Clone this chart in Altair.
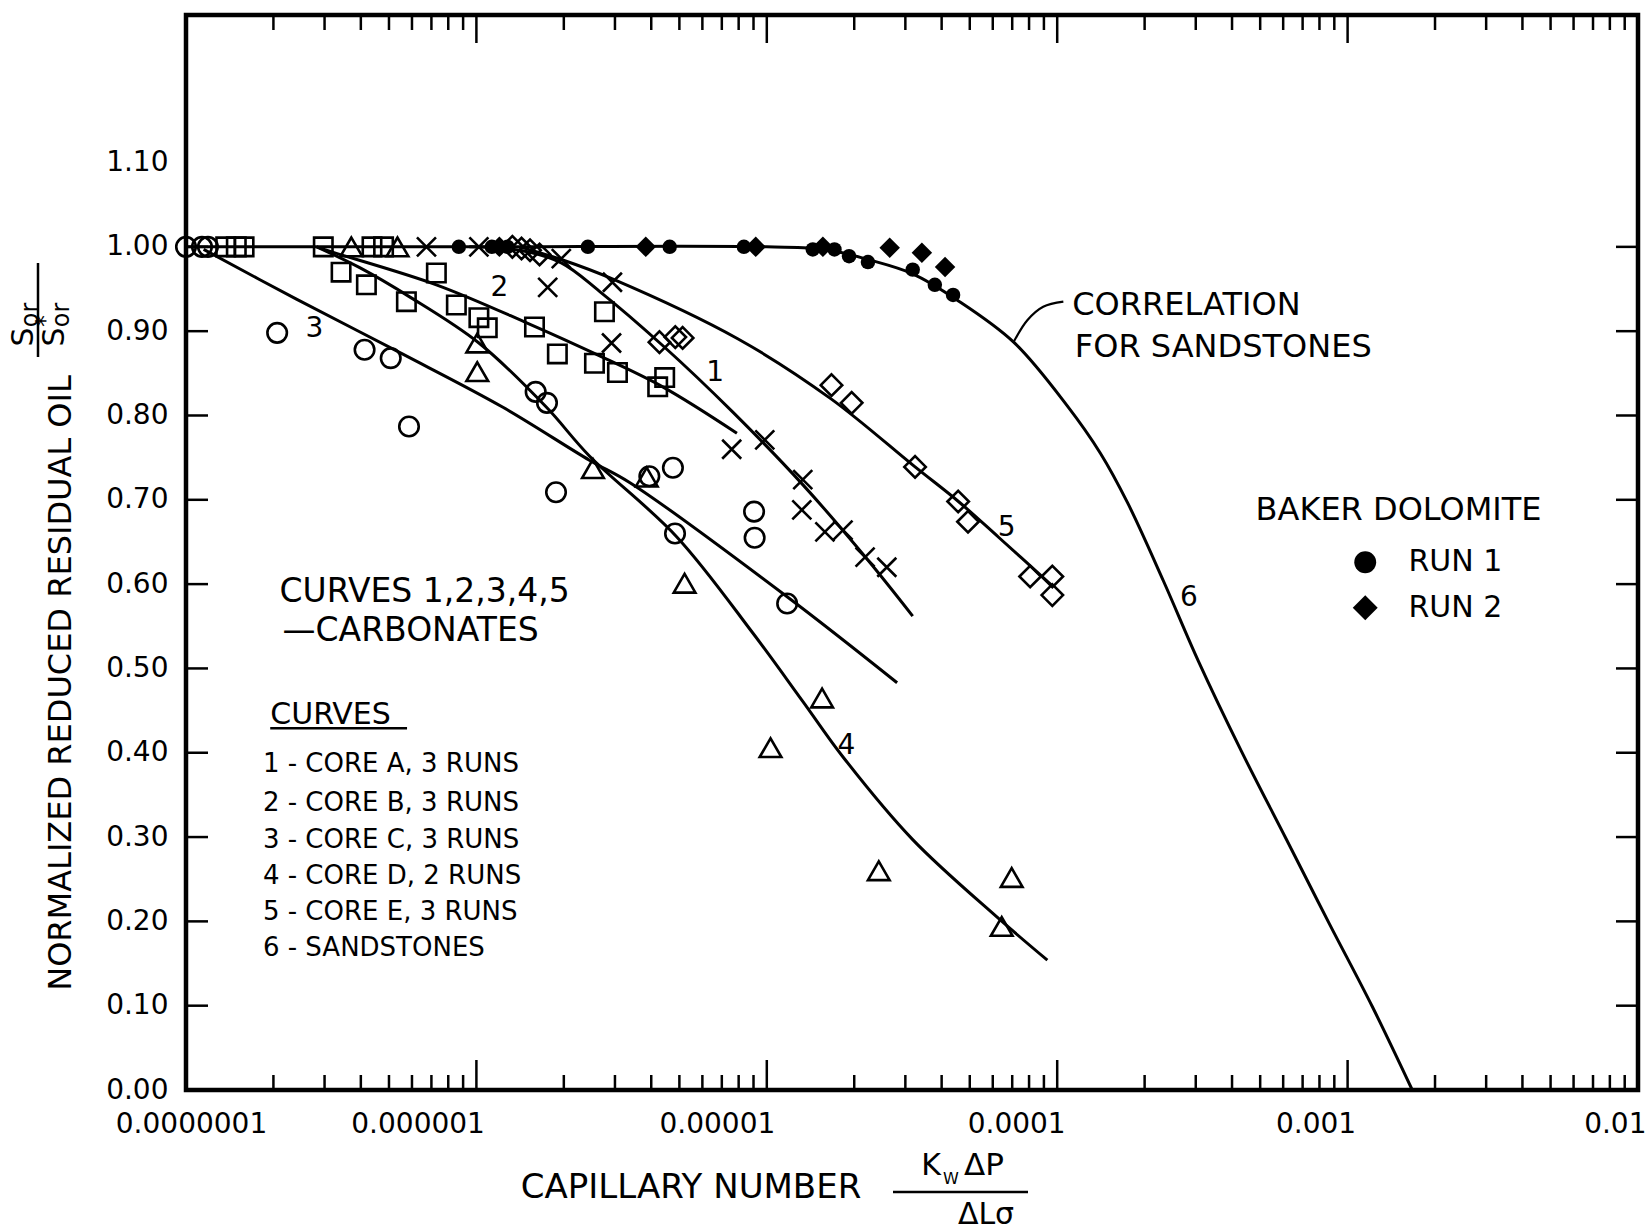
import altair as alt
import pandas as pd

# ---------------- measured points ----------------
# Core A (x markers)
core_a_x = [6.73e-7, 1.02e-6, 1.96e-6, 1.76e-6, 2.94e-6, 2.92e-6, 7.57e-6, 9.84e-6,
            1.33e-5, 1.32e-5, 1.585e-5, 1.83e-5, 2.18e-5, 2.59e-5]
core_a_y = [1.0, 1.0, 0.986, 0.952, 0.958, 0.886, 0.76, 0.771,
            0.724, 0.688, 0.662, 0.664, 0.632, 0.62]

# Core B (open squares)
core_b_x = [1.37e-7, 1.49e-7, 1.585e-7, 2.97e-7, 4.37e-7, 4.79e-7, 3.42e-7, 4.18e-7,
            5.74e-7, 7.28e-7, 8.53e-7, 1.02e-6, 1.09e-6, 1.585e-6, 1.90e-6, 2.55e-6,
            2.76e-6, 3.06e-6, 4.21e-6, 4.45e-6]
core_b_y = [1.0, 1.0, 1.0, 1.0, 1.0, 1.0, 0.97, 0.955,
            0.935, 0.969, 0.931, 0.916, 0.904, 0.905, 0.873, 0.862,
            0.923, 0.851, 0.834, 0.845]

# Core C (open circles)
core_c_x = [1.0e-7, 1.135e-7, 1.19e-7, 2.06e-7, 4.12e-7, 5.07e-7, 5.86e-7, 1.60e-6,
            1.75e-6, 1.88e-6, 3.94e-6, 4.75e-6, 4.83e-6, 9.04e-6, 9.08e-6, 1.175e-5]
core_c_y = [1.0, 1.0, 1.0, 0.898, 0.878, 0.868, 0.787, 0.828,
            0.815, 0.709, 0.728, 0.738, 0.66, 0.686, 0.655, 0.577]

# Core D (open triangles)
core_d_x = [3.71e-7, 5.35e-7, 1.007e-6, 1.007e-6, 2.52e-6, 3.86e-6, 5.21e-6, 1.55e-5,
            1.03e-5, 2.43e-5, 6.97e-5, 6.44e-5]
core_d_y = [1.0, 1.0, 0.886, 0.852, 0.737, 0.727, 0.601, 0.465,
            0.406, 0.26, 0.252, 0.194]

# Core E (open diamonds)
core_e_x = [1.33e-6, 1.43e-6, 1.53e-6, 1.65e-6, 4.27e-6, 4.84e-6, 5.13e-6, 1.67e-5,
            1.96e-5, 3.24e-5, 4.56e-5, 4.93e-5, 8.07e-5, 9.62e-5, 9.62e-5]
core_e_y = [1.0, 0.998, 0.996, 0.991, 0.887, 0.893, 0.892, 0.836,
            0.815, 0.739, 0.698, 0.674, 0.609, 0.609, 0.587]

# Baker dolomite, run 1 (filled circles) and run 2 (filled diamonds)
baker1_x = [8.7e-7, 1.13e-6, 1.28e-6, 2.42e-6, 4.63e-6, 8.34e-6, 1.44e-5, 1.71e-5,
            1.92e-5, 2.23e-5, 3.18e-5, 3.79e-5, 4.38e-5]
baker1_y = [1.0, 1.0, 1.0, 1.0, 1.0, 1.0, 0.997, 0.997,
            0.989, 0.982, 0.973, 0.955, 0.943]
baker2_x = [1.2e-6, 3.83e-6, 9.16e-6, 1.56e-5, 2.65e-5, 3.42e-5, 4.11e-5]
baker2_y = [1.0, 1.0, 1.0, 1.0, 0.999, 0.993, 0.976]

# ---------------- fitted curves ----------------
curve1_x = [9.46e-7, 1.41e-6, 1.96e-6, 2.66e-6, 4.38e-6, 7.64e-6, 1.33e-5, 2.21e-5, 3.18e-5]
curve1_y = [1.0, 0.996, 0.981, 0.947, 0.883, 0.804, 0.718, 0.63, 0.562]
curve2_x = [2.82e-7, 3.18e-7, 7.28e-7, 1.51e-6, 2.57e-6, 4.38e-6, 7.89e-6]
curve2_y = [1.0, 0.994, 0.955, 0.909, 0.873, 0.834, 0.779]
curve3_x = [1.15e-7, 2.40e-7, 5.56e-7, 1.23e-6, 2.45e-6, 3.39e-6, 1.175e-5, 2.81e-5]
curve3_y = [0.997, 0.938, 0.873, 0.81, 0.747, 0.72, 0.585, 0.483]
curve4_x = [2.82e-7, 3.98e-7, 5.87e-7, 1.02e-6, 1.74e-6, 2.45e-6, 4.90e-6, 8.95e-6,
            1.33e-5, 1.83e-5, 3.18e-5, 6.21e-5, 9.25e-5]
curve4_y = [1.0, 0.975, 0.941, 0.886, 0.81, 0.752, 0.656, 0.542,
            0.461, 0.395, 0.297, 0.205, 0.154]
curve5_x = [1.41e-6, 1.96e-6, 2.94e-6, 7.94e-6, 1.66e-5, 3.24e-5, 4.57e-5, 6.31e-5, 9.62e-5]
curve5_y = [1.0, 0.985, 0.962, 0.891, 0.82, 0.739, 0.698, 0.655, 0.598]
curve6_x = [1e-7, 1e-6, 1e-5, 1.6e-5, 2.23e-5, 3.18e-5, 4.52e-5, 7.08e-5, 1.08e-4,
            1.41e-4, 1.75e-4, 2.32e-4, 3.06e-4, 4.32e-4, 6.14e-4, 8.63e-4, 1.216e-3, 1.67e-3]
curve6_y = [1.0, 1.0, 1.0, 0.997, 0.985, 0.968, 0.937, 0.887, 0.812,
            0.755, 0.696, 0.604, 0.509, 0.401, 0.298, 0.198, 0.099, 0.0]

# leader from the sandstone curve to its caption
leader_x = [7.05e-5, 7.89e-5, 8.95e-5, 1.05e-4]
leader_y = [0.886, 0.913, 0.929, 0.935]

# ---------------- axis ticks ----------------
decades = [1e-7, 1e-6, 1e-5, 1e-4, 1e-3, 1e-2]
minor_steps = [2, 3, 4, 5, 6, 7, 8, 9]
y_labels = [0.0, 0.1, 0.2, 0.3, 0.4, 0.5, 0.6, 0.7, 0.8, 0.9, 1.0, 1.1]
y_ticks = [0.0, 0.1, 0.2, 0.3, 0.4, 0.5, 0.6, 0.7, 0.8, 0.9, 1.0]
minor_x = [m * d for d in decades[:-1] for m in minor_steps]

# ---------------- annotation text ----------------
curve_numbers = ["1", "2", "3", "4", "5", "6"]
curve_number_x = [6.64e-6, 1.20e-6, 2.77e-7, 1.88e-5, 6.70e-5, 2.84e-4]
curve_number_y = [0.85, 0.951, 0.903, 0.408, 0.667, 0.584]

caption_lines = ["1 - CORE  A,  3 RUNS", "2 - CORE  B,  3 RUNS", "3 - CORE  C,  3 RUNS",
                 "4 - CORE  D,  2 RUNS", "5 - CORE  E,  3 RUNS", "6 - SANDSTONES"]
caption_y = [0.387, 0.340, 0.297, 0.254, 0.211, 0.168]

W, H = 1452, 1075
FONT = "DejaVu Sans"

xscale = alt.Scale(type="log", domain=[1e-7, 1e-2], nice=False)
yscale = alt.Scale(domain=[0, 1.275], nice=False, zero=False)

first_label = "datum.value < 2e-7"
xaxis = alt.Axis(values=decades, format=".7~f", ticks=False, tickSize=0, domain=False,
                 grid=False, title=None, labelFont=FONT, labelFontSize=28,
                 labelColor="black", labelPadding=20, labelFlush=False,
                 labelOverlap=False, labelBound=False,
                 labelAlign={"condition": {"test": first_label, "value": "center"},
                             "value": "right"},
                 labelOffset={"condition": {"test": first_label, "value": 5},
                              "value": 8})
yaxis = alt.Axis(values=y_labels, format=".2f", ticks=False, tickSize=0, domain=False,
                 grid=False, title=None, labelFont=FONT, labelFontSize=28,
                 labelColor="black", labelPadding=18)

X = alt.X("x:Q", scale=xscale, axis=xaxis)
Y = alt.Y("y:Q", scale=yscale, axis=yaxis)


def frame(xs, ys):
    return pd.DataFrame({"x": xs, "y": ys})


def curve_frame():
    rows = []
    for cid, (xs, ys) in enumerate([(curve1_x, curve1_y), (curve2_x, curve2_y),
                                    (curve3_x, curve3_y), (curve4_x, curve4_y),
                                    (curve5_x, curve5_y), (curve6_x, curve6_y)], start=1):
        for i, (a, b) in enumerate(zip(xs, ys)):
            rows.append({"x": a, "y": b, "curve": cid, "i": i})
    return pd.DataFrame(rows)


one = pd.DataFrame({"a": [0]})

layers = []

# fitted curves
layers.append(
    alt.Chart(curve_frame()).mark_line(color="black", strokeWidth=3, interpolate="catmull-rom")
    .encode(x=X, y=Y, detail="curve:N", order="i:Q")
)
layers.append(
    alt.Chart(frame(leader_x, leader_y)).mark_line(color="black", strokeWidth=2.2,
                                                   interpolate="catmull-rom")
    .encode(x=X, y=Y)
)

# data markers
open_style = dict(filled=False, color="black", strokeWidth=2.6, opacity=1)
layers.append(alt.Chart(frame(core_c_x, core_c_y)).mark_point(shape="circle", size=380, **open_style).encode(x=X, y=Y))
layers.append(alt.Chart(frame(core_b_x, core_b_y)).mark_point(shape="square", size=340, **open_style).encode(x=X, y=Y))
layers.append(alt.Chart(frame(core_d_x, core_d_y)).mark_point(shape="triangle-up", size=470, **open_style).encode(x=X, y=Y))
layers.append(alt.Chart(frame(core_a_x, core_a_y)).mark_point(shape="M-1,-1L1,1M-1,1L1,-1", size=361, **open_style).encode(x=X, y=Y))
layers.append(alt.Chart(frame(core_e_x, core_e_y)).mark_point(shape="diamond", size=460, **open_style).encode(x=X, y=Y))
layers.append(alt.Chart(frame(baker1_x, baker1_y)).mark_point(shape="circle", size=210, filled=True, color="black", opacity=1).encode(x=X, y=Y))
layers.append(alt.Chart(frame(baker2_x, baker2_y)).mark_point(shape="diamond", size=420, filled=True, color="black", opacity=1).encode(x=X, y=Y))

# inward ticks on all four sides
tick = dict(color="black", strokeWidth=2.5)
layers.append(alt.Chart(pd.DataFrame({"x": decades})).mark_rule(**tick)
              .encode(x=X, y=alt.value(H), y2=alt.value(H - 30)))
layers.append(alt.Chart(pd.DataFrame({"x": minor_x})).mark_rule(**tick)
              .encode(x=X, y=alt.value(H), y2=alt.value(H - 15)))
layers.append(alt.Chart(pd.DataFrame({"x": decades})).mark_rule(**tick)
              .encode(x=X, y=alt.value(0), y2=alt.value(28)))
layers.append(alt.Chart(pd.DataFrame({"x": minor_x})).mark_rule(**tick)
              .encode(x=X, y=alt.value(0), y2=alt.value(15)))
layers.append(alt.Chart(pd.DataFrame({"y": y_ticks})).mark_rule(**tick)
              .encode(y=Y, x=alt.value(0), x2=alt.value(22)))
layers.append(alt.Chart(pd.DataFrame({"y": y_ticks})).mark_rule(**tick)
              .encode(y=Y, x=alt.value(W), x2=alt.value(W - 22)))

# curve numbers
layers.append(
    alt.Chart(pd.DataFrame({"x": curve_number_x, "y": curve_number_y, "t": curve_numbers}))
    .mark_text(font=FONT, fontSize=28, color="black", align="center", baseline="middle")
    .encode(x=X, y=Y, text="t:N")
)


def data_text(text, x, y, size, align="left"):
    return (alt.Chart(pd.DataFrame({"x": [x], "y": [y], "t": [text]}))
            .mark_text(font=FONT, fontSize=size, color="black", align=align,
                       baseline="middle")
            .encode(x=X, y=Y, text="t:N"))


layers.append(data_text("CORRELATION", 1.127e-4, 0.931, 32))
layers.append(data_text("FOR  SANDSTONES", 1.15e-4, 0.881, 32))
layers.append(data_text("BAKER  DOLOMITE", 4.82e-4, 0.688, 32))
layers.append(data_text("RUN 1", 1.62e-3, 0.626, 30))
layers.append(data_text("RUN 2", 1.62e-3, 0.572, 30))
layers.append(alt.Chart(frame([1.15e-3], [0.626])).mark_point(shape="circle", size=480, filled=True, color="black", opacity=1).encode(x=X, y=Y))
layers.append(alt.Chart(frame([1.15e-3], [0.572])).mark_point(shape="diamond", size=620, filled=True, color="black", opacity=1).encode(x=X, y=Y))

layers.append(data_text("CURVES 1,2,3,4,5", 2.10e-7, 0.591, 33))
layers.append(data_text("\u2014CARBONATES", 2.15e-7, 0.544, 33))
layers.append(data_text("CURVES", 1.95e-7, 0.445, 30))
layers.append(alt.Chart(pd.DataFrame({"x": [1.95e-7], "x2": [5.77e-7], "y": [0.429]}))
              .mark_rule(color="black", strokeWidth=2.5).encode(x=X, x2="x2:Q", y=Y))
for line, yy in zip(caption_lines, caption_y):
    layers.append(data_text(line, 1.84e-7, yy, 26))


def px_text(text, x, y, size, angle=0, align="center"):
    return (alt.Chart(one)
            .mark_text(text=text, font=FONT, fontSize=size, color="black", align=align,
                       baseline="middle", angle=angle)
            .encode(x=alt.value(x), y=alt.value(y)))


# axis titles
layers.append(px_text("NORMALIZED  REDUCED  RESIDUAL  OIL", -125, 668, 32, angle=270))
layers.append(px_text("CAPILLARY   NUMBER", 505, 1173, 34))

# S_or / S*_or fraction beside the y title
layers.append(px_text("S", -162, 322, 30, angle=270))
layers.append(px_text("or", -155, 300, 24, angle=270))
layers.append(px_text("S", -131, 322, 30, angle=270))
layers.append(px_text("*", -140, 306, 24, angle=270))
layers.append(px_text("or", -124, 300, 24, angle=270))
layers.append(alt.Chart(one).mark_rule(color="black", strokeWidth=2.5)
              .encode(x=alt.value(-148), y=alt.value(248), y2=alt.value(342)))

# K_w dP / dL sigma fraction beside the x title
layers.append(px_text("K", 745, 1151, 30))
layers.append(px_text("W", 765, 1164, 16))
layers.append(px_text("\u0394P", 778, 1151, 31, align="left"))
layers.append(alt.Chart(one).mark_rule(color="black", strokeWidth=2.5)
              .encode(x=alt.value(707), x2=alt.value(842), y=alt.value(1177)))
layers.append(px_text("\u0394L\u03c3", 800, 1200, 30))

chart = (
    alt.layer(*layers)
    .properties(width=W, height=H,
                padding={"left": 186, "top": 15, "right": 10, "bottom": 141},
                autosize=alt.AutoSizeParams(type="none"),
                background="white")
    .configure_view(stroke="black", strokeWidth=4.5)
)

chart.save("out.html", embed_options={"renderer": "svg", "actions": False})
